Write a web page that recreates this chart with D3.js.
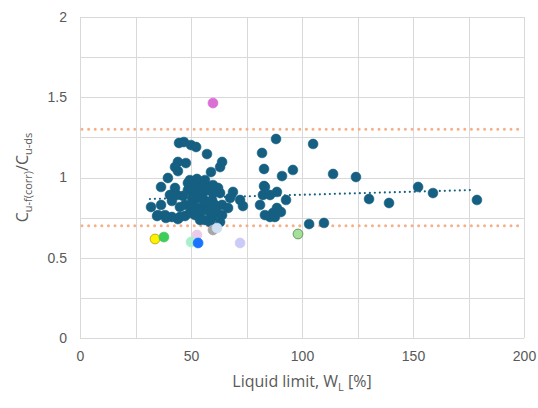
<!DOCTYPE html>
<html>
<head>
<meta charset="utf-8">
<script src="https://cdn.jsdelivr.net/npm/d3@7"></script>
<style>
  html, body { margin: 0; padding: 0; background: #fff; }
  svg { display: block; font-family: "Open Sans", "Liberation Sans", sans-serif; }
</style>
</head>
<body>
<div id="chart"></div>
<script>
// ---- data ----
const wlMain = [44.6,46.8,50.0,52.3,57.2,44.1,47.7,42.8,44.1,59.0,63.1,64.0,39.6,36.5,42.8,40.5,41.4,32.0,36.5,35.1,
  38.3,41.4,44.1,47.3,49.5,43.7,48.6,52.7,55.4,57.2,50.9,55.0,57.2,54.1,59.5,48.6,51.8,55.0,62.2,63.1,
  59.5,64.0,67.6,68.9,72.1,73.4,61.7,64.0,63.1,66.7,82.0,82.9,82.9,82.4,81.1,83.3,86.9,87.8,88.3,85.6,
  88.7,90.5,91.0,95.9,92.8,88.7,85.6,103.2,109.9,105.0,114.0,124.3,130.2,139.2,152.3,159.0,178.8,83.3,57.7,45.0,
  34.7,38.7,50.5,53.2,55.9,52.3,57.7,54.1,58.6,60.8,59.9,50.5,46.4,47.3,45.0,56.3,49.5,52.7,
  51.8,54.1,49.5,51.8,56.3,58.6,59.9];
const ratioMain = [1.215,1.221,1.202,1.190,1.146,1.097,1.090,1.065,1.040,1.034,1.065,1.097,0.997,0.941,0.935,0.891,0.854,0.816,0.829,0.766,
  0.766,0.754,0.741,0.760,0.779,0.891,0.922,0.941,0.903,0.941,0.841,0.816,0.798,0.779,0.754,0.966,0.972,0.953,0.935,0.903,
  0.860,0.829,0.872,0.910,0.860,0.822,0.779,0.766,0.723,0.810,1.153,1.053,0.947,0.891,0.829,0.766,0.779,0.754,1.240,0.891,
  0.910,0.785,1.009,1.047,0.860,0.810,0.754,0.710,0.717,1.209,1.022,1.003,0.866,0.841,0.941,0.903,0.860,0.941,0.922,0.754,
  0.760,0.748,0.872,0.872,0.860,0.810,0.841,0.735,0.723,0.829,0.953,0.922,0.885,0.829,0.816,0.984,0.984,0.991,
  0.922,0.891,0.829,0.766,0.735,0.785,0.903];

// individually coloured points
const wlSpecial    = [33.8, 37.8, 52.7, 50.0, 53.2, 59.9, 61.7, 72.1, 98.2, 59.9];
const ratioSpecial = [0.617, 0.629, 0.642, 0.598, 0.592, 0.673, 0.685, 0.592, 0.648, 1.464];

// linear trend of main series (end points)
const trendX = [31.5, 177];
const trendY = [0.866, 0.922];

// limit lines
const limitLines = [1.3, 0.7];

const xTicks = [0, 50, 100, 150, 200];
const yTicks = [0, 0.5, 1, 1.5, 2];
const xGrid = d3.range(0, 201, 25);
const yGrid = d3.range(0, 2.001, 0.25);

// ---- styles ----
const specialFill   = ["#FFF200", "#3ECC5A", "#E8CCEA", "#A8F0CC", "#1A73FF", "#A6A6A6", "#CFE0F2", "#CBCBF7", "#A6DE9C", "#DB6FD6"];
const specialStroke = ["#B89B00", "#3ECC5A", "#E8CCEA", "#A8F0CC", "#1A73FF", "#A6A6A6", "#CFE0F2", "#CBCBF7", "#4E8A4A", "#DB6FD6"];
const mainColor = "#156082";
const limitColor = "#F4B08A";

const W = 538, H = 408;
const margin = { left: 80, right: 14, top: 17, bottom: 70 };

const svg = d3.select("#chart").append("svg").attr("width", W).attr("height", H);

const x = d3.scaleLinear().domain([0, 200]).range([margin.left, W - margin.right]);
const y = d3.scaleLinear().domain([0, 2]).range([H - margin.bottom, margin.top]);

// grid
svg.append("g").selectAll("line.h").data(yGrid).join("line")
  .attr("x1", x(0)).attr("x2", x(200))
  .attr("y1", d => Math.round(y(d)) + 0.5).attr("y2", d => Math.round(y(d)) + 0.5)
  .attr("stroke", "#D9D9D9").attr("stroke-width", 1);
svg.append("g").selectAll("line.v").data(xGrid).join("line")
  .attr("y1", y(0)).attr("y2", y(2))
  .attr("x1", d => Math.round(x(d)) + 0.5).attr("x2", d => Math.round(x(d)) + 0.5)
  .attr("stroke", "#D9D9D9").attr("stroke-width", 1);

// axes (labels only)
const xAxis = d3.axisBottom(x).tickValues(xTicks).tickSize(0).tickPadding(13).tickFormat(d3.format("d"));
const gx = svg.append("g").attr("transform", `translate(0,${y(0)})`).call(xAxis);
gx.select(".domain").remove();
gx.selectAll("text").attr("fill", "#595959").style("font-size", "14px");

const yAxis = d3.axisLeft(y).tickValues(yTicks).tickSize(0).tickPadding(13).tickFormat(d => d);
const gy = svg.append("g").attr("transform", `translate(${x(0)},0)`).call(yAxis);
gy.select(".domain").remove();
gy.selectAll("text").attr("fill", "#595959").style("font-size", "14px");

// limit lines (dotted orange)
svg.append("g").selectAll("line").data(limitLines).join("line")
  .attr("x1", x(0) + 2).attr("x2", x(200))
  .attr("y1", d => y(d)).attr("y2", d => y(d))
  .attr("stroke", limitColor).attr("stroke-width", 3)
  .attr("stroke-linecap", "round").attr("stroke-dasharray", "0 6.6");

// trend line
const line = d3.line().x(d => x(d[0])).y(d => y(d[1]));
svg.append("path").datum(d3.zip(trendX, trendY))
  .attr("d", line).attr("fill", "none")
  .attr("stroke", mainColor).attr("stroke-width", 2.2)
  .attr("stroke-linecap", "round").attr("stroke-dasharray", "0 5");

// main points
svg.append("g").selectAll("circle").data(d3.zip(wlMain, ratioMain)).join("circle")
  .attr("cx", d => x(d[0])).attr("cy", d => y(d[1])).attr("r", 4.9)
  .attr("fill", mainColor).attr("stroke", mainColor).attr("stroke-width", 0.6);

// special points
svg.append("g").selectAll("circle").data(d3.zip(wlSpecial, ratioSpecial, specialFill, specialStroke)).join("circle")
  .attr("cx", d => x(d[0])).attr("cy", d => y(d[1])).attr("r", 4.9)
  .attr("fill", d => d[2]).attr("stroke", d => d[3]).attr("stroke-width", 0.8);

// axis titles
svg.append("text")
  .attr("x", (x(0) + x(200)) / 2).attr("y", 387)
  .attr("text-anchor", "middle").attr("fill", "#595959").style("font-size", "16px")
  .call(t => {
    t.append("tspan").text("Liquid limit, W");
    t.append("tspan").attr("dy", 4).style("font-size", "11px").text("L");
    t.append("tspan").attr("dy", -4).text(" [%]");
  });

svg.append("text")
  .attr("transform", `translate(28,${(y(0) + y(2)) / 2}) rotate(-90)`)
  .attr("text-anchor", "middle").attr("fill", "#595959").style("font-size", "16px")
  .call(t => {
    t.append("tspan").text("C");
    t.append("tspan").attr("dy", 4).style("font-size", "11px").text("u-f(corr)");
    t.append("tspan").attr("dy", -4).text("/C");
    t.append("tspan").attr("dy", 4).style("font-size", "11px").text("u-ds");
  });
</script>
</body>
</html>
